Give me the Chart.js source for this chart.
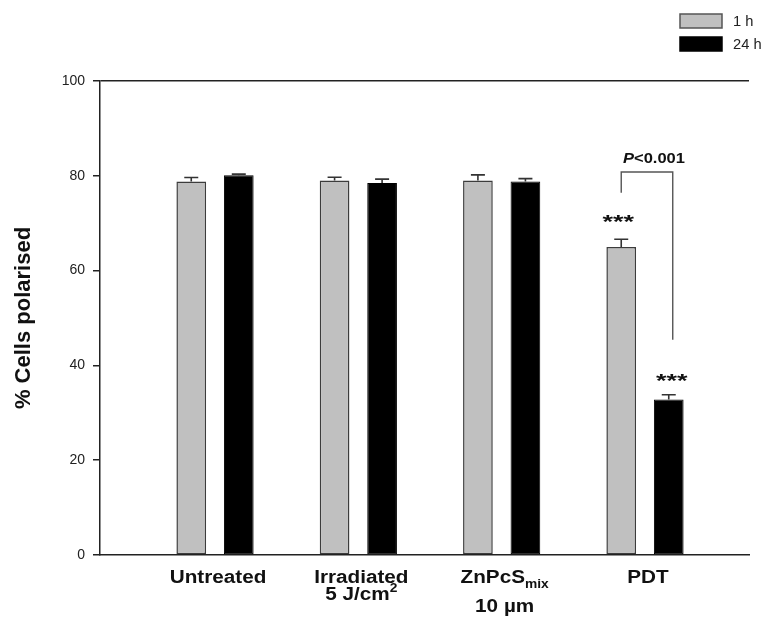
<!DOCTYPE html>
<html>
<head>
<meta charset="utf-8">
<script src="https://cdn.jsdelivr.net/npm/chart.js@4"></script>
<style>
  html, body { margin: 0; padding: 0; background: #fff; }
</style>
</head>
<body>
<canvas id="actualChart" width="769" height="621"></canvas>
<script>
// data
var categories = ['Untreated', 'Irradiated', 'ZnPcS', 'PDT'];
var subText    = ['', '', 'mix', ''];
var line2Text  = ['', '5 J/cm', '10 \u00b5m', ''];
var supText    = ['', '2', '', ''];
var seriesNames = ['1 h', '24 h'];
var oneHour     = [78.8, 79.0, 79.0, 65.0];
var oneHourErr  = [0.85, 0.7, 1.2, 1.6];
var dayLong     = [80.1, 78.5, 78.8, 32.8];
var dayLongErr  = [0.25, 0.8, 0.6, 1.0];
var yTicks = [0, 20, 40, 60, 80, 100];

var FAM = '"Liberation Sans", Arial, sans-serif';
var SX = 1.15; // figure text is a bit stretched sideways
Chart.defaults.font.family = FAM;
Chart.defaults.color = '#222';

function pts(vals) {
  return vals.map(function (v, i) { return { x: i + 1, y: v }; });
}

// width of text once stretched
function tw(ctx, txt, font, sx) {
  ctx.font = font;
  return ctx.measureText(txt).width * sx;
}
// draw text left-aligned, stretched by sx
function txt(ctx, s, x, y, font, sx) {
  ctx.save();
  ctx.font = font;
  ctx.textAlign = 'left';
  ctx.translate(x, y);
  ctx.scale(sx, 1);
  ctx.fillText(s, 0, 0);
  ctx.restore();
}

var errBars = {
  id: 'errBars',
  afterDatasetsDraw: function (chart) {
    var ctx = chart.ctx, ys = chart.scales.y;
    var errs = [oneHourErr, dayLongErr];
    var vals = [oneHour, dayLong];
    ctx.save();
    ctx.strokeStyle = '#333';
    ctx.lineWidth = 1.6;
    for (var d = 0; d < 2; d++) {
      var meta = chart.getDatasetMeta(d);
      meta.data.forEach(function (bar, i) {
        var y0 = ys.getPixelForValue(vals[d][i]);
        var y1 = ys.getPixelForValue(vals[d][i] + errs[d][i]);
        ctx.beginPath();
        ctx.moveTo(bar.x, y0); ctx.lineTo(bar.x, y1);
        ctx.moveTo(bar.x - 7, y1); ctx.lineTo(bar.x + 7, y1);
        ctx.stroke();
      });
    }
    ctx.restore();
  }
};

var extras = {
  id: 'extras',
  afterDraw: function (chart) {
    var ctx = chart.ctx, xs = chart.scales.x, ys = chart.scales.y;
    var big = 'bold 18px ' + FAM, small = 'bold 12px ' + FAM;
    ctx.save();
    ctx.fillStyle = '#111';
    ctx.textBaseline = 'alphabetic';
    // category labels
    categories.forEach(function (c, i) {
      var cx = xs.getPixelForValue(i + 1) + 3;
      var w = tw(ctx, c, big, SX);
      var ws = subText[i] ? tw(ctx, subText[i], small, SX) : 0;
      var left = cx - (w + ws) / 2;
      txt(ctx, c, left, 583, big, SX);
      if (subText[i]) txt(ctx, subText[i], left + w, 588, small, SX);
      if (line2Text[i]) {
        var w2 = tw(ctx, line2Text[i], big, SX);
        var wsup = supText[i] ? tw(ctx, supText[i], small, SX) : 0;
        var l2 = cx - (w2 + wsup) / 2;
        var by = supText[i] ? 600 : 612;
        txt(ctx, line2Text[i], l2, by, big, SX);
        if (supText[i]) txt(ctx, supText[i], l2 + w2, by - 8, small, SX);
      }
    });

    // significance marks on PDT
    var g = chart.getDatasetMeta(0).data[3];
    var b = chart.getDatasetMeta(1).data[3];
    var starF = 'bold 18px ' + FAM;
    var sw = tw(ctx, '***', starF, 1.5);
    txt(ctx, '***', g.x - 3 - sw / 2, ys.getPixelForValue(69.0), starF, 1.5);
    txt(ctx, '***', b.x + 3 - sw / 2, ys.getPixelForValue(35.5), starF, 1.5);

    ctx.strokeStyle = '#555';
    ctx.lineWidth = 1.4;
    var top = ys.getPixelForValue(80.8);
    ctx.beginPath();
    ctx.moveTo(g.x, ys.getPixelForValue(76.4));
    ctx.lineTo(g.x, top);
    ctx.lineTo(b.x + 4, top);
    ctx.lineTo(b.x + 4, ys.getPixelForValue(45.4));
    ctx.stroke();

    // P<0.001
    var py = ys.getPixelForValue(82.7);
    var pf = 'italic bold 15px ' + FAM, rf = 'bold 15px ' + FAM;
    var wp = tw(ctx, 'P', pf, 1.1), wr = tw(ctx, '<0.001', rf, 1.1);
    var px = (g.x + b.x + 4) / 2 + 7 - (wp + wr) / 2;
    txt(ctx, 'P', px, py, pf, 1.1);
    txt(ctx, '<0.001', px + wp, py, rf, 1.1);

    // legend
    var fills = ['#c0c0c0', '#000'];
    seriesNames.forEach(function (n, i) {
      var y = 14 + i * 23;
      ctx.fillStyle = fills[i];
      ctx.fillRect(680, y, 42, 14);
      ctx.strokeStyle = i === 0 ? '#555' : '#000';
      ctx.lineWidth = 1.5;
      ctx.strokeRect(680, y, 42, 14);
      ctx.fillStyle = '#222';
      txt(ctx, n, 733, y + 12, '14px ' + FAM, 1.05);
    });
    ctx.restore();
  }
};

var chart = new Chart(document.getElementById('actualChart'), {
  type: 'bar',
  data: {
    datasets: [{
      label: seriesNames[0],
      data: pts(oneHour),
      backgroundColor: '#c0c0c0',
      borderColor: '#3c3c3c',
      borderWidth: 1.5,
      borderSkipped: false
    }, {
      label: seriesNames[1],
      data: pts(dayLong),
      backgroundColor: '#000',
      borderColor: '#000',
      borderWidth: 1,
      borderSkipped: false
    }]
  },
  options: {
    responsive: false,
    animation: false,
    devicePixelRatio: 1,
    categoryPercentage: 0.663,
    barPercentage: 0.625,
    layout: { padding: { top: 81, right: 20, left: 0, bottom: 0 } },
    plugins: { legend: { display: false }, tooltip: { enabled: false } },
    scales: {
      x: {
        type: 'linear',
        offset: false,
        min: 0.1975,
        max: 4.7257,
        afterBuildTicks: function (s) { s.ticks = categories.map(function (c, i) { return { value: i + 1 }; }); },
        ticks: { display: false },
        grid: { display: false },
        border: { display: true, color: '#222', width: 1.5 },
        afterFit: function (s) { s.height = 66; }
      },
      y: {
        min: 0,
        max: 100,
        afterBuildTicks: function (s) { s.ticks = yTicks.map(function (v) { return { value: v }; }); },
        ticks: { font: { size: 14 }, color: '#222', padding: 8 },
        grid: {
          color: function (c) { return c.tick && c.tick.value === 100 ? '#222' : 'rgba(0,0,0,0)'; },
          lineWidth: 1.5,
          tickColor: '#222',
          tickLength: 7,
          tickWidth: 1.5
        },
        border: { display: true, color: '#222', width: 1.5 },
        title: {
          display: true,
          text: '% Cells polarised',
          font: { size: 22, weight: 'bold' },
          color: '#111',
          padding: { top: 11, bottom: 0 }
        },
        afterFit: function (s) { s.width = 100; }
      }
    }
  },
  plugins: [errBars, extras]
});
</script>
</body>
</html>
